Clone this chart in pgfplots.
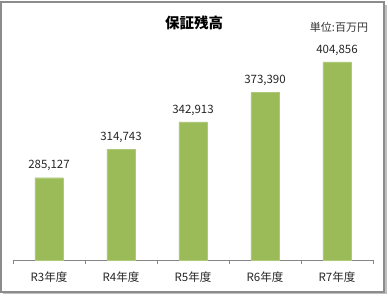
\documentclass[border=0pt]{standalone}
\usepackage{fontspec}
\usepackage{pgfplots}
\pgfplotsset{compat=1.18}
\setmainfont{Noto Sans CJK JP}
\newfontfamily\cjk{Noto Sans CJK JP}
\definecolor{bargreen}{HTML}{9BBB59}
\definecolor{axgray}{HTML}{868686}
\begin{document}
\begin{tikzpicture}[x=1pt,y=1pt]
\useasboundingbox (0,0) rectangle (388,295);
% shadow and frame
\fill[black!25] (3,1) rectangle (387,290);
\fill[white] (1,3) rectangle (384,293);
\draw[line width=1.5pt, color=black!45] (1,3) rectangle (384,293);
\begin{axis}[
  at={(13pt,35pt)}, anchor=south west,
  scale only axis,
  width=360pt, height=232pt,
  xmin=-0.5, xmax=4.5,
  ymin=200000, ymax=440000,
  axis x line*=bottom,
  axis y line=none,
  axis line style={axgray, line width=0.8pt},
  xtick={0,1,2,3,4},
  xticklabels={R3年度,R4年度,R5年度,R6年度,R7年度},
  major tick length=0pt,
  minor xtick={-0.5,0.5,1.5,2.5,3.5,4.5},
  minor tick length=4pt,
  tick align=outside,
  minor tick style={axgray, line width=0.8pt},
  xticklabel style={font=\fontsize{11.5}{13}\selectfont, color=black!85, yshift=-8pt},
  ybar, bar width=28pt,
  nodes near coords={\pgfmathprintnumber[fixed,precision=0,1000 sep={,},assume math mode=true]{\pgfplotspointmeta}},
  every node near coord/.append style={font=\fontsize{11.5}{13}\selectfont, color=black!85, yshift=3pt},
  clip=false,
]
\addplot[fill=bargreen, draw=bargreen!80!white, line width=0.4pt] coordinates {
  (0,285127) (1,314743) (2,342913) (3,373390) (4,404856)
};
\end{axis}
\node[font=\bfseries\fontsize{14.5}{16}\selectfont] at (194,272) {保証残高};
\node[font=\fontsize{11}{13}\selectfont, color=black!80] at (339,268) {単位:百万円};
\end{tikzpicture}
\end{document}
